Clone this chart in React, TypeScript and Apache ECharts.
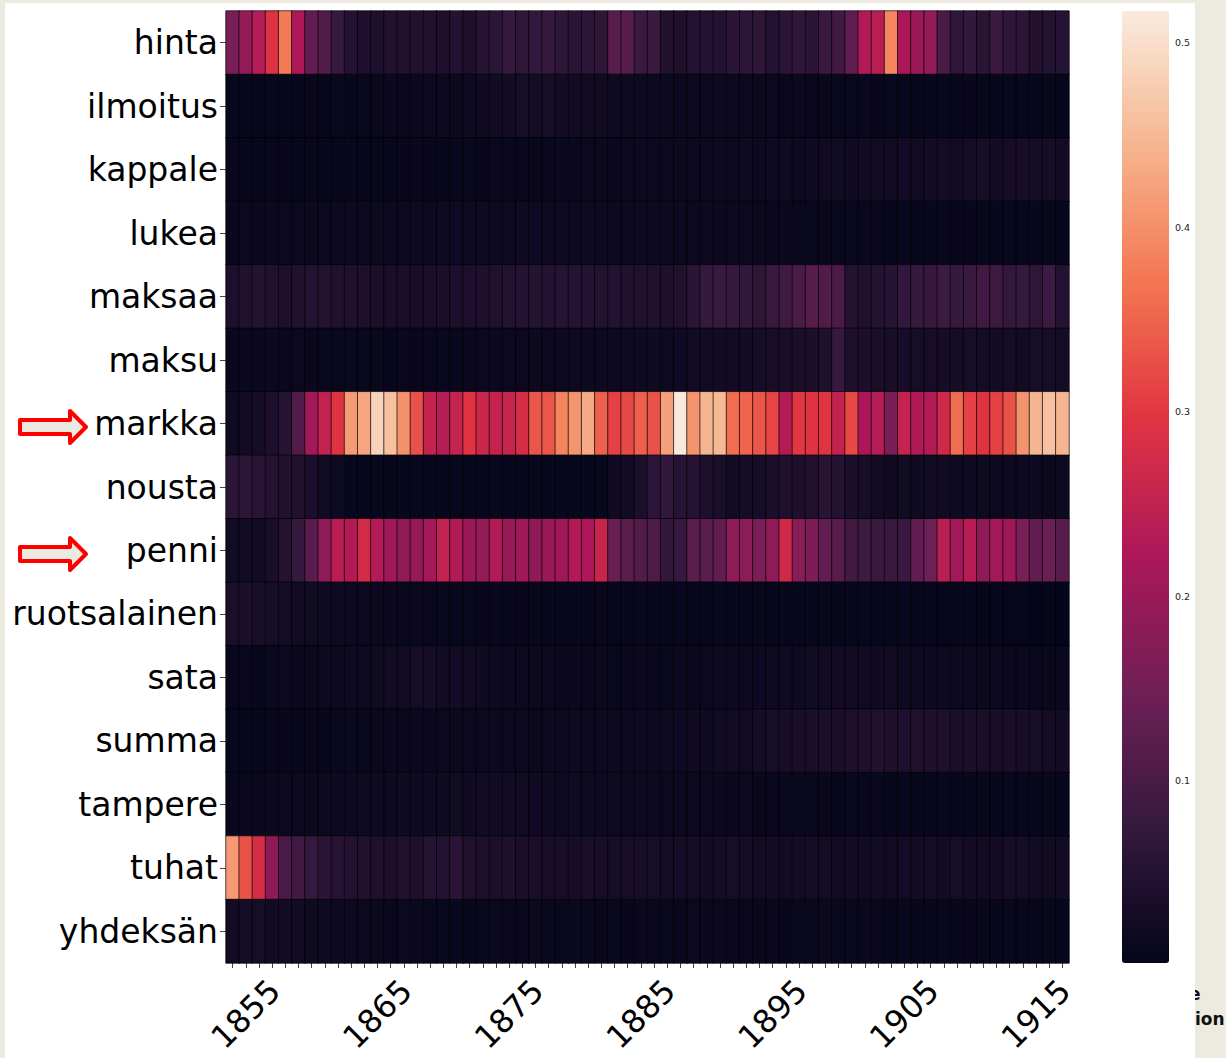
import React, { useEffect, useRef } from 'react';
import * as echarts from 'echarts';

const words = ['hinta', 'ilmoitus', 'kappale', 'lukea', 'maksaa', 'maksu', 'markka', 'nousta', 'penni', 'ruotsalainen', 'sata', 'summa', 'tampere', 'tuhat', 'yhdeksän'];
const years = Array.from({ length: 64 }, (_, i) => String(1854 + i));
const colorbarTicks = [0.1, 0.2, 0.3, 0.4, 0.5];

const hinta = [0.16,0.19,0.235,0.29,0.375,0.225,0.13,0.11,0.075,0.05,0.04,0.04,0.045,0.045,0.045,0.045,0.04,0.048,0.042,0.055,0.06,0.075,0.065,0.07,0.075,0.065,0.06,0.062,0.065,0.12,0.115,0.08,0.08,0.045,0.042,0.05,0.048,0.05,0.06,0.062,0.065,0.05,0.06,0.067,0.06,0.08,0.09,0.13,0.23,0.24,0.39,0.22,0.2,0.19,0.1,0.065,0.072,0.058,0.08,0.067,0.062,0.045,0.048,0.052];
const ilmoitus = [0.008,0.008,0.009,0.008,0.009,0.01,0.009,0.01,0.011,0.01,0.012,0.011,0.013,0.012,0.014,0.013,0.015,0.016,0.018,0.02,0.024,0.026,0.03,0.028,0.03,0.027,0.025,0.022,0.02,0.019,0.018,0.017,0.016,0.016,0.015,0.016,0.014,0.015,0.014,0.013,0.014,0.013,0.012,0.013,0.012,0.011,0.012,0.011,0.011,0.01,0.011,0.01,0.01,0.009,0.01,0.009,0.009,0.008,0.009,0.008,0.008,0.007,0.008,0.007];
const kappale = [0.01,0.009,0.009,0.01,0.009,0.008,0.009,0.008,0.008,0.009,0.008,0.008,0.009,0.009,0.01,0.009,0.01,0.01,0.011,0.01,0.011,0.012,0.011,0.012,0.012,0.013,0.012,0.013,0.014,0.013,0.014,0.015,0.014,0.015,0.016,0.015,0.016,0.017,0.016,0.018,0.017,0.019,0.02,0.019,0.021,0.02,0.022,0.021,0.023,0.022,0.024,0.025,0.023,0.026,0.027,0.025,0.028,0.03,0.027,0.029,0.031,0.028,0.03,0.027];
const lukea = [0.012,0.013,0.012,0.014,0.013,0.014,0.015,0.014,0.015,0.016,0.015,0.016,0.017,0.016,0.018,0.017,0.018,0.019,0.018,0.02,0.019,0.018,0.02,0.019,0.018,0.019,0.017,0.018,0.017,0.016,0.017,0.016,0.015,0.016,0.015,0.014,0.015,0.014,0.013,0.014,0.013,0.012,0.013,0.012,0.012,0.011,0.012,0.011,0.012,0.011,0.01,0.011,0.01,0.01,0.009,0.01,0.009,0.008,0.009,0.008,0.007,0.008,0.007,0.007];
const maksaa = [0.04,0.045,0.05,0.045,0.04,0.045,0.05,0.048,0.045,0.042,0.04,0.038,0.036,0.035,0.034,0.036,0.035,0.038,0.04,0.042,0.045,0.048,0.05,0.052,0.05,0.055,0.052,0.05,0.048,0.05,0.046,0.045,0.044,0.042,0.045,0.06,0.075,0.08,0.078,0.07,0.065,0.08,0.09,0.1,0.115,0.11,0.1,0.05,0.045,0.05,0.055,0.07,0.075,0.078,0.085,0.075,0.08,0.09,0.085,0.07,0.075,0.065,0.085,0.05];
const maksu = [0.012,0.011,0.012,0.013,0.012,0.013,0.012,0.012,0.011,0.012,0.011,0.011,0.01,0.011,0.01,0.011,0.011,0.012,0.012,0.013,0.014,0.013,0.014,0.015,0.014,0.016,0.015,0.016,0.017,0.016,0.018,0.018,0.02,0.019,0.021,0.022,0.024,0.023,0.025,0.027,0.03,0.032,0.034,0.036,0.038,0.042,0.075,0.04,0.038,0.035,0.034,0.032,0.03,0.031,0.029,0.028,0.03,0.027,0.026,0.028,0.025,0.03,0.032,0.028];
const markka = [0.02,0.025,0.028,0.04,0.055,0.11,0.21,0.25,0.295,0.415,0.425,0.485,0.46,0.4,0.33,0.255,0.235,0.255,0.295,0.265,0.255,0.26,0.28,0.335,0.335,0.385,0.405,0.43,0.345,0.31,0.32,0.345,0.33,0.42,0.515,0.405,0.445,0.45,0.36,0.35,0.335,0.315,0.232,0.3,0.295,0.297,0.255,0.32,0.223,0.235,0.16,0.255,0.228,0.232,0.27,0.36,0.31,0.295,0.31,0.33,0.405,0.445,0.46,0.445];
const nousta = [0.062,0.062,0.058,0.048,0.045,0.045,0.035,0.022,0.018,0.008,0.008,0.007,0.008,0.007,0.008,0.008,0.007,0.008,0.007,0.008,0.007,0.008,0.008,0.01,0.008,0.007,0.008,0.008,0.008,0.02,0.025,0.038,0.062,0.07,0.055,0.052,0.04,0.035,0.025,0.028,0.03,0.038,0.042,0.04,0.045,0.058,0.048,0.038,0.03,0.025,0.02,0.022,0.02,0.022,0.02,0.018,0.02,0.018,0.015,0.015,0.015,0.015,0.015,0.015];
const penni = [0.022,0.022,0.025,0.035,0.05,0.075,0.12,0.185,0.238,0.228,0.275,0.232,0.205,0.185,0.195,0.21,0.25,0.228,0.2,0.19,0.228,0.195,0.205,0.185,0.2,0.205,0.228,0.222,0.26,0.14,0.12,0.11,0.105,0.07,0.075,0.12,0.12,0.13,0.185,0.18,0.16,0.185,0.27,0.18,0.165,0.13,0.115,0.09,0.085,0.08,0.08,0.08,0.13,0.145,0.24,0.21,0.237,0.185,0.21,0.205,0.16,0.13,0.14,0.12];
const ruotsalainen = [0.035,0.038,0.034,0.03,0.028,0.025,0.022,0.02,0.018,0.016,0.015,0.014,0.013,0.012,0.012,0.011,0.011,0.01,0.011,0.01,0.01,0.01,0.009,0.01,0.009,0.01,0.009,0.009,0.01,0.009,0.01,0.009,0.009,0.01,0.009,0.009,0.008,0.009,0.008,0.009,0.008,0.008,0.009,0.008,0.008,0.007,0.008,0.008,0.007,0.008,0.007,0.007,0.008,0.007,0.006,0.007,0.006,0.006,0.007,0.006,0.006,0.005,0.006,0.005];
const sata = [0.01,0.011,0.01,0.012,0.013,0.012,0.014,0.015,0.016,0.018,0.019,0.02,0.022,0.025,0.03,0.028,0.024,0.026,0.022,0.02,0.018,0.017,0.016,0.015,0.014,0.013,0.014,0.012,0.013,0.012,0.011,0.012,0.011,0.012,0.013,0.012,0.014,0.015,0.016,0.015,0.017,0.018,0.02,0.019,0.022,0.024,0.025,0.022,0.021,0.02,0.022,0.018,0.019,0.017,0.016,0.015,0.016,0.014,0.013,0.012,0.013,0.011,0.012,0.011];
const summa = [0.008,0.009,0.008,0.01,0.009,0.01,0.011,0.01,0.011,0.012,0.011,0.012,0.013,0.012,0.013,0.012,0.013,0.014,0.013,0.014,0.015,0.014,0.015,0.014,0.015,0.016,0.015,0.016,0.017,0.016,0.017,0.018,0.017,0.018,0.019,0.02,0.021,0.022,0.024,0.025,0.028,0.03,0.032,0.034,0.036,0.035,0.038,0.04,0.042,0.045,0.042,0.04,0.045,0.042,0.04,0.036,0.038,0.035,0.034,0.036,0.032,0.03,0.028,0.026];
const tampere = [0.012,0.011,0.012,0.013,0.014,0.013,0.015,0.016,0.017,0.016,0.018,0.019,0.018,0.02,0.019,0.021,0.02,0.022,0.021,0.023,0.022,0.024,0.022,0.021,0.02,0.019,0.02,0.018,0.017,0.018,0.016,0.015,0.016,0.014,0.015,0.013,0.014,0.013,0.012,0.013,0.012,0.011,0.012,0.011,0.012,0.011,0.01,0.011,0.01,0.011,0.01,0.009,0.01,0.009,0.01,0.009,0.008,0.009,0.008,0.009,0.008,0.008,0.007,0.008];
const tuhat = [0.41,0.33,0.28,0.185,0.1,0.09,0.075,0.06,0.055,0.048,0.045,0.042,0.04,0.045,0.042,0.055,0.05,0.06,0.045,0.04,0.038,0.042,0.036,0.035,0.033,0.034,0.032,0.035,0.033,0.03,0.032,0.031,0.03,0.028,0.03,0.029,0.027,0.028,0.03,0.028,0.026,0.027,0.025,0.026,0.028,0.026,0.025,0.027,0.024,0.026,0.025,0.027,0.026,0.028,0.025,0.03,0.027,0.025,0.026,0.03,0.028,0.024,0.022,0.025];
const yhdeksan = [0.025,0.028,0.03,0.025,0.022,0.024,0.02,0.018,0.016,0.015,0.014,0.013,0.012,0.013,0.012,0.011,0.012,0.011,0.01,0.011,0.012,0.011,0.012,0.013,0.012,0.011,0.012,0.011,0.01,0.011,0.01,0.011,0.012,0.011,0.012,0.013,0.012,0.011,0.012,0.011,0.012,0.011,0.01,0.011,0.012,0.013,0.012,0.011,0.012,0.011,0.01,0.011,0.01,0.009,0.01,0.009,0.01,0.009,0.008,0.009,0.008,0.009,0.008,0.008];

const rows = [hinta, ilmoitus, kappale, lukea, maksaa, maksu, markka, nousta, penni, ruotsalainen, sata, summa, tampere, tuhat, yhdeksan];

const rocket = ['#03051a', '#35193e', '#701f57', '#ad1759', '#e13342', '#f37651', '#f6b48f', '#faebdd'];
const vMin = 0.0014;
const vMax = 0.517;

const FONT = 'DejaVu Sans';

export default function App() {
  const ref = useRef<HTMLDivElement>(null);
  useEffect(() => {
    document.body.style.margin = '0';
    const chart = echarts.init(ref.current!, null, { renderer: 'svg' });
    const data: number[][] = [];
    rows.forEach((r, yi) => r.forEach((v, xi) => data.push([xi, yi, v])));
    const arrow = (cy: number) => ({
      type: 'polygon',
      shape: {
        points: [[20, cy - 7], [70, cy - 7], [70, cy - 16], [86, cy], [70, cy + 16], [70, cy + 7], [20, cy + 7]],
      },
      style: { fill: '#eceae0', stroke: '#ff0000', lineWidth: 4, lineJoin: 'round' },
      z: 10,
    });
    chart.setOption({
      animation: false,
      backgroundColor: 'transparent',
      grid: [
        { left: 226, top: 11, width: 843, height: 952 },
        { left: 1122, top: 11, width: 47, height: 952 },
      ],
      xAxis: [
        {
          type: 'category',
          data: years,
          gridIndex: 0,
          axisLine: { show: false },
          axisTick: { show: true, interval: 0, alignWithLabel: true, length: 5, lineStyle: { color: '#444', width: 1 } },
          axisLabel: {
            interval: (_i: number, v: string) => (Number(v) - 1855) % 10 === 0,
            rotate: 45,
            align: 'center',
            verticalAlign: 'middle',
            margin: 51,
            fontSize: 32,
            fontFamily: FONT,
            color: '#000',
          },
          splitLine: { show: false },
        },
        { type: 'value', gridIndex: 1, show: false },
      ],
      yAxis: [
        {
          type: 'category',
          data: words,
          inverse: true,
          gridIndex: 0,
          axisLine: { show: false },
          axisTick: { show: true, alignWithLabel: true, length: 6, lineStyle: { color: '#444', width: 1 } },
          axisLabel: { fontSize: 33, fontFamily: FONT, color: '#000', margin: 8, padding: [4, 0, 0, 0] },
          splitLine: { show: false },
        },
        {
          type: 'value',
          gridIndex: 1,
          min: vMin,
          max: vMax,
          position: 'right',
          axisLine: { show: false },
          axisTick: { show: true, customValues: colorbarTicks, length: 3, lineStyle: { color: '#333', width: 1 } },
          axisLabel: {
            customValues: colorbarTicks,
            formatter: (v: number) => v.toFixed(1),
            fontSize: 9.5,
            fontFamily: FONT,
            color: '#222',
            margin: 6,
          },
          splitLine: { show: false },
        },
      ],
      visualMap: {
        type: 'continuous',
        min: vMin,
        max: vMax,
        seriesIndex: 0,
        show: true,
        calculable: false,
        hoverLink: false,
        left: 1122,
        top: 11,
        padding: 0,
        itemWidth: 47,
        itemHeight: 952,
        text: ['', ''],
        inRange: { color: rocket },
      },
      series: [
        {
          type: 'heatmap',
          data,
          xAxisIndex: 0,
          yAxisIndex: 0,
          itemStyle: { borderColor: 'rgba(0,0,0,0.85)', borderWidth: 0.8 },
          emphasis: { disabled: true },
        },
      ],
      graphic: [
        arrow(427),
        arrow(554),
        {
          type: 'text',
          left: 1189,
          top: 985,
          style: { text: 'e', font: `bold 17px ${FONT}`, fill: '#111' },
          z: 10,
        },
        {
          type: 'text',
          left: 1195,
          top: 1010,
          style: { text: 'ion', font: `bold 17px ${FONT}`, fill: '#111' },
          z: 10,
        },
      ],
    });
    return () => chart.dispose();
  }, []);
  return (
    <div style={{ position: 'relative', width: 1226, height: 1058, background: '#edeae0', overflow: 'hidden' }}>
      <div style={{ position: 'absolute', left: 5, top: 3, width: 1190, height: 1055, background: '#ffffff' }} />
      <div ref={ref} style={{ position: 'absolute', left: 0, top: 0, width: 1226, height: 1058 }} />
      <div style={{ position: 'absolute', left: 1150, top: 975, width: 45, height: 83, background: '#ffffff' }} />
    </div>
  );
}
